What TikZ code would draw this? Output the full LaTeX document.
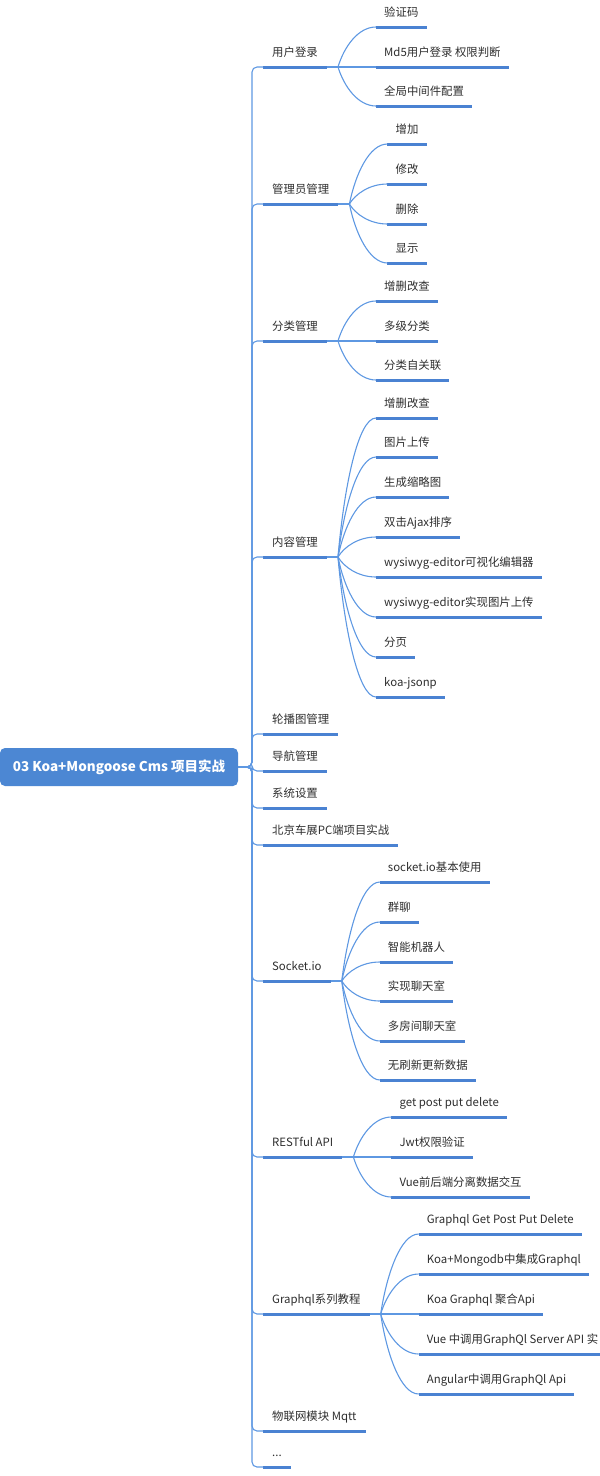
\documentclass[tikz,border=0pt]{standalone}
\usepackage{fontspec}
\setmainfont{Noto Sans CJK SC}
\usetikzlibrary{positioning,calc}
\definecolor{rootblue}{HTML}{4C87D3}
\definecolor{lineblue}{HTML}{4A82D2}
\definecolor{linkblue}{HTML}{5E98E2}
\definecolor{txt}{HTML}{2E2E2E}

\tikzset{
  root/.style={fill=rootblue, text=white, rounded corners=5pt, minimum width=238pt,
    minimum height=38pt, inner sep=0pt, font=\bfseries\fontsize{13.5}{16}\selectfont},
  uline/.style={draw=lineblue, line width=3pt},
  topic/.style={anchor=south west, inner xsep=9pt, inner ysep=7pt, text height=9pt,
    text depth=3pt, text=txt, font=\fontsize{11.4}{13.5}\selectfont,
    append after command={(\tikzlastnode.south west) edge[uline] (\tikzlastnode.south east)}},
  sub/.style={topic, inner xsep=8pt},
  link/.style={draw=linkblue, line width=1.1pt},
  curvy/.style={to path={.. controls ($(\tikztostart |- \tikztotarget)!0.5!(\tikztostart)+(6,0)$)
    and ($(\tikztotarget)+(-18,0)$) .. (\tikztotarget)}},
  trunkline/.style={to path={-- (\tikztostart -| trunk) |- (\tikztotarget)}}
}

\begin{document}
\begin{tikzpicture}[x=1pt, y=1pt]
    \useasboundingbox (0,0) rectangle (600,-1476);
    \clip (0,0) rectangle (600,-1476);
    \coordinate (trunk) at (252,0);

    \node[root] (root) at (119,-767) {03 Koa+Mongoose Cms 项目实战};

    % first level
    \node[topic] (dl) at (263,-67) {用户登录};
    \node[topic] (gly) at (263,-204) {管理员管理};
    \node[topic] (fl) at (263,-341) {分类管理};
    \node[topic] (nr) at (263,-557) {内容管理};
    \node[topic] (lbt) at (263,-734) {轮播图管理};
    \node[topic] (dh) at (263,-771) {导航管理};
    \node[topic] (xt) at (263,-808) {系统设置};
    \node[topic] (bj) at (263,-845) {北京车展PC端项目实战};
    \node[topic] (sk) at (263,-981) {Socket.io};
    \node[topic] (rest) at (263,-1157) {RESTful API};
    \node[topic] (gq) at (263,-1314) {Graphql系列教程};
    \node[topic] (wlw) at (263,-1431) {物联网模块 Mqtt};
    \node[topic] (more) at (263,-1467) {...};

    % 用户登录
    \coordinate (dlb) at ($(dl.south east)+(11,0)$);
    \node[sub] (dl1) at ($(dl.south east)+(49,40)$) {验证码};
    \node[sub] (dl2) at ($(dl.south east)+(49,0)$) {Md5用户登录 权限判断};
    \node[sub] (dl3) at ($(dl.south east)+(49,-39)$) {全局中间件配置};

    % 管理员管理
    \coordinate (glyb) at ($(gly.south east)+(11,0)$);
    \node[sub] (gly1) at ($(gly.south east)+(49,60)$) {增加};
    \node[sub] (gly2) at ($(gly.south east)+(49,20)$) {修改};
    \node[sub] (gly3) at ($(gly.south east)+(49,-20)$) {删除};
    \node[sub] (gly4) at ($(gly.south east)+(49,-59)$) {显示};

    % 分类管理
    \coordinate (flb) at ($(fl.south east)+(11,0)$);
    \node[sub] (fl1) at ($(fl.south east)+(49,40)$) {增删改查};
    \node[sub] (fl2) at ($(fl.south east)+(49,0)$) {多级分类};
    \node[sub] (fl3) at ($(fl.south east)+(49,-39)$) {分类自关联};

    % 内容管理
    \coordinate (nrb) at ($(nr.south east)+(11,0)$);
    \node[sub] (nr1) at ($(nr.south east)+(49,139)$) {增删改查};
    \node[sub] (nr2) at ($(nr.south east)+(49,100)$) {图片上传};
    \node[sub] (nr3) at ($(nr.south east)+(49,60)$) {生成缩略图};
    \node[sub] (nr4) at ($(nr.south east)+(49,20)$) {双击Ajax排序};
    \node[sub] (nr5) at ($(nr.south east)+(49,-20)$) {wysiwyg-editor可视化编辑器};
    \node[sub] (nr6) at ($(nr.south east)+(49,-60)$) {wysiwyg-editor实现图片上传};
    \node[sub] (nr7) at ($(nr.south east)+(49,-100)$) {分页};
    \node[sub] (nr8) at ($(nr.south east)+(49,-140)$) {koa-jsonp};

    % Socket.io
    \coordinate (skb) at ($(sk.south east)+(11,0)$);
    \node[sub] (sk1) at ($(sk.south east)+(49,99)$) {socket.io基本使用};
    \node[sub] (sk2) at ($(sk.south east)+(49,59)$) {群聊};
    \node[sub] (sk3) at ($(sk.south east)+(49,19)$) {智能机器人};
    \node[sub] (sk4) at ($(sk.south east)+(49,-20)$) {实现聊天室};
    \node[sub] (sk5) at ($(sk.south east)+(49,-60)$) {多房间聊天室};
    \node[sub] (sk6) at ($(sk.south east)+(49,-99)$) {无刷新更新数据};

    % RESTful API
    \coordinate (restb) at ($(rest.south east)+(11,0)$);
    \node[sub] (rest1) at ($(rest.south east)+(49,40)$) {get post put delete};
    \node[sub] (rest2) at ($(rest.south east)+(49,0)$) {Jwt权限验证};
    \node[sub] (rest3) at ($(rest.south east)+(49,-40)$) {Vue前后端分离数据交互};

    % Graphql
    \coordinate (gqb) at ($(gq.south east)+(11,0)$);
    \node[sub] (gq1) at ($(gq.south east)+(49,80)$) {Graphql Get Post Put Delete};
    \node[sub] (gq2) at ($(gq.south east)+(49,40)$) {Koa+Mongodb中集成Graphql};
    \node[sub] (gq3) at ($(gq.south east)+(49,0)$) {Koa Graphql 聚合Api};
    \node[sub] (gq4) at ($(gq.south east)+(49,-40)$) {Vue 中调用GraphQl Server API 实};
    \node[sub] (gq5) at ($(gq.south east)+(49,-80)$) {Angular中调用GraphQl Api};

    \path[link, rounded corners=5pt]
        (root.east) edge[trunkline] (dl.south west)
        (root.east) edge[trunkline] (gly.south west)
        (root.east) edge[trunkline] (fl.south west)
        (root.east) edge[trunkline] (nr.south west)
        (root.east) edge[trunkline] (lbt.south west)
        (root.east) edge[trunkline] (dh.south west)
        (root.east) edge[trunkline] (xt.south west)
        (root.east) edge[trunkline] (bj.south west)
        (root.east) edge[trunkline] (sk.south west)
        (root.east) edge[trunkline] (rest.south west)
        (root.east) edge[trunkline] (gq.south west)
        (root.east) edge[trunkline] (wlw.south west)
        (root.east) edge[trunkline] (more.south west);
    \path[link]
        (dl.south east) edge (dlb)
        (dlb) edge[curvy] (dl1.south west)
        (dlb) edge[curvy] (dl2.south west)
        (dlb) edge[curvy] (dl3.south west);
    \path[link]
        (gly.south east) edge (glyb)
        (glyb) edge[curvy] (gly1.south west)
        (glyb) edge[curvy] (gly2.south west)
        (glyb) edge[curvy] (gly3.south west)
        (glyb) edge[curvy] (gly4.south west);
    \path[link]
        (fl.south east) edge (flb)
        (flb) edge[curvy] (fl1.south west)
        (flb) edge[curvy] (fl2.south west)
        (flb) edge[curvy] (fl3.south west);
    \path[link]
        (nr.south east) edge (nrb)
        (nrb) edge[curvy] (nr1.south west)
        (nrb) edge[curvy] (nr2.south west)
        (nrb) edge[curvy] (nr3.south west)
        (nrb) edge[curvy] (nr4.south west)
        (nrb) edge[curvy] (nr5.south west)
        (nrb) edge[curvy] (nr6.south west)
        (nrb) edge[curvy] (nr7.south west)
        (nrb) edge[curvy] (nr8.south west);
    \path[link]
        (sk.south east) edge (skb)
        (skb) edge[curvy] (sk1.south west)
        (skb) edge[curvy] (sk2.south west)
        (skb) edge[curvy] (sk3.south west)
        (skb) edge[curvy] (sk4.south west)
        (skb) edge[curvy] (sk5.south west)
        (skb) edge[curvy] (sk6.south west);
    \path[link]
        (rest.south east) edge (restb)
        (restb) edge[curvy] (rest1.south west)
        (restb) edge[curvy] (rest2.south west)
        (restb) edge[curvy] (rest3.south west);
    \path[link]
        (gq.south east) edge (gqb)
        (gqb) edge[curvy] (gq1.south west)
        (gqb) edge[curvy] (gq2.south west)
        (gqb) edge[curvy] (gq3.south west)
        (gqb) edge[curvy] (gq4.south west)
        (gqb) edge[curvy] (gq5.south west);
\end{tikzpicture}
\end{document}
